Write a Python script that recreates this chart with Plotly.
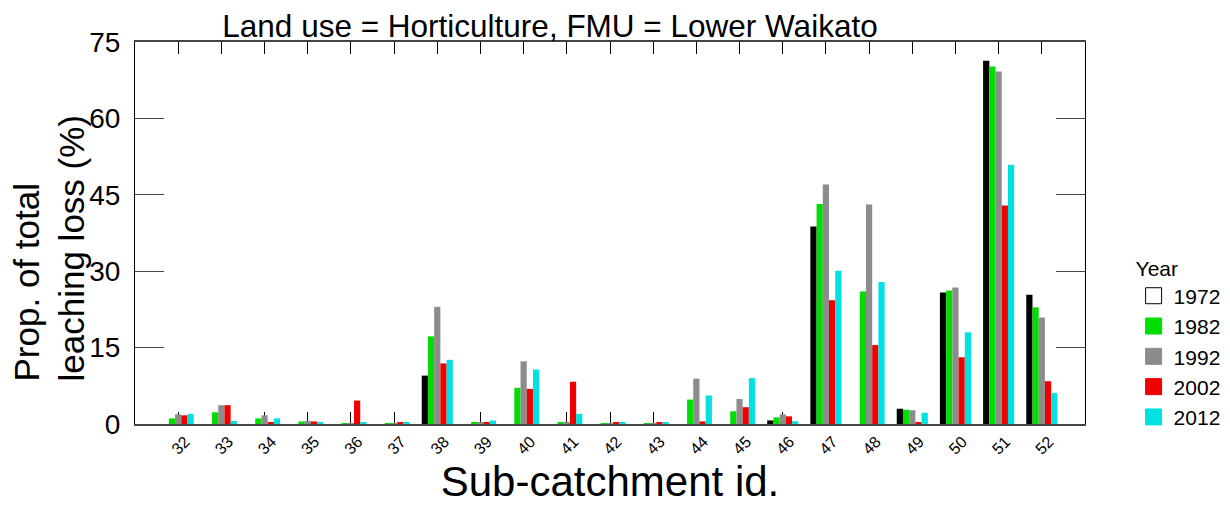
import plotly.graph_objects as go

categories = list(range(32, 53))
years = ["1972", "1982", "1992", "2002", "2012"]

v1972 = [0, 0, 0, 0, 0, 0, 9.5, 0, 0, 0, 0, 0, 0, 0, 0.7, 38.8, 0, 3.0, 25.8, 71.3, 25.4]
v1982 = [1.1, 2.3, 1.1, 0.5, 0.1, 0.1, 17.2, 0.3, 7.1, 0.2, 0.1, 0.1, 4.8, 2.5, 1.3, 43.2, 26.0, 2.8, 26.2, 70.2, 22.9]
v1992 = [1.9, 3.7, 1.7, 0.6, 0.1, 0.1, 23.0, 0.4, 12.3, 0.2, 0.1, 0.1, 8.9, 4.9, 1.9, 47.0, 43.1, 2.7, 26.8, 69.2, 20.9]
v2002 = [1.7, 3.7, 0.3, 0.5, 4.6, 0.2, 11.9, 0.3, 6.9, 8.3, 0.2, 0.2, 0.5, 3.3, 1.5, 24.3, 15.5, 0.3, 13.1, 42.9, 8.4]
v2012 = [2.0, 0.6, 1.1, 0.2, 0.2, 0.2, 12.6, 0.7, 10.7, 2.0, 0.2, 0.2, 5.6, 9.0, 0.55, 30.1, 27.9, 2.2, 18.0, 50.9, 6.1]

series = [v1972, v1982, v1992, v2002, v2012]
colors = ["#000000", "#00dd00", "#8c8c8c", "#f00000", "#00e1e1"]
legend_fill = ["#ffffff", "#00dd00", "#8c8c8c", "#f00000", "#00e1e1"]
legend_line = ["#000000", "#00dd00", "#8c8c8c", "#f00000", "#00e1e1"]

FONT = "Liberation Sans, Arial, sans-serif"

W, H = 1222, 509  # page body has an 8px margin

fig = go.Figure()
for yr, vals, col in zip(years, series, colors):
    fig.add_trace(go.Bar(x=categories, y=vals, name=yr, marker=dict(color=col, line=dict(width=0)),
                         showlegend=False))
for yr, fc, lc in zip(years, legend_fill, legend_line):
    fig.add_trace(go.Scatter(x=[None], y=[None], mode="markers", name=yr,
                             marker=dict(symbol="square", size=16, color=fc, line=dict(color=lc, width=1))))

fig.update_layout(
    width=W, height=H,
    margin=dict(l=127, r=145, t=34, b=93, autoexpand=False),
    paper_bgcolor="white", plot_bgcolor="white",
    barmode="group", bargap=0.28, bargroupgap=0,
    font=dict(family=FONT, color="black"),
    title=dict(text="Land use = Horticulture, FMU = Lower Waikato", font=dict(size=31.5, family=FONT),
               x=542/W, xanchor="center", xref="container", y=1-18/H, yanchor="middle", yref="container",
               automargin=False),
    legend=dict(title=dict(text="Year", font=dict(size=21)), font=dict(size=21),
                x=1.148, xanchor="right", y=0.46, yanchor="top", tracegroupgap=0, itemsizing="trace"),
    xaxis=dict(range=[31, 53], tickvals=categories, ticktext=[str(c) for c in categories],
               ticks="inside", ticklen=12, tickcolor="black", tickwidth=1,
               showline=True, linecolor="#444444", linewidth=2, mirror="ticks", layer="below traces",
               showgrid=False, zeroline=False, tickangle=-45, tickfont=dict(size=16),
               ticklabelshift=7, automargin=False,
               title=dict(text="Sub-catchment id.", font=dict(size=42), standoff=8)),
    yaxis=dict(range=[0, 75], tickvals=[0, 15, 30, 45, 60, 75],
               ticks="inside", ticklen=29, tickcolor="#444444", tickwidth=1,
               showline=True, linecolor="black", linewidth=1, mirror="ticks",
               showgrid=False, zeroline=False, tickfont=dict(size=28), ticklabelstandoff=8,
               automargin=False),
)

fig.add_annotation(text="Prop. of total<br>leaching loss (%)", textangle=-90, align="left",
                   xref="paper", yref="paper", x=(49-135)/950, y=(424-384)/382,
                   xanchor="center", yanchor="bottom", showarrow=False,
                   font=dict(size=35, family=FONT))

fig.write_html("out.html")
